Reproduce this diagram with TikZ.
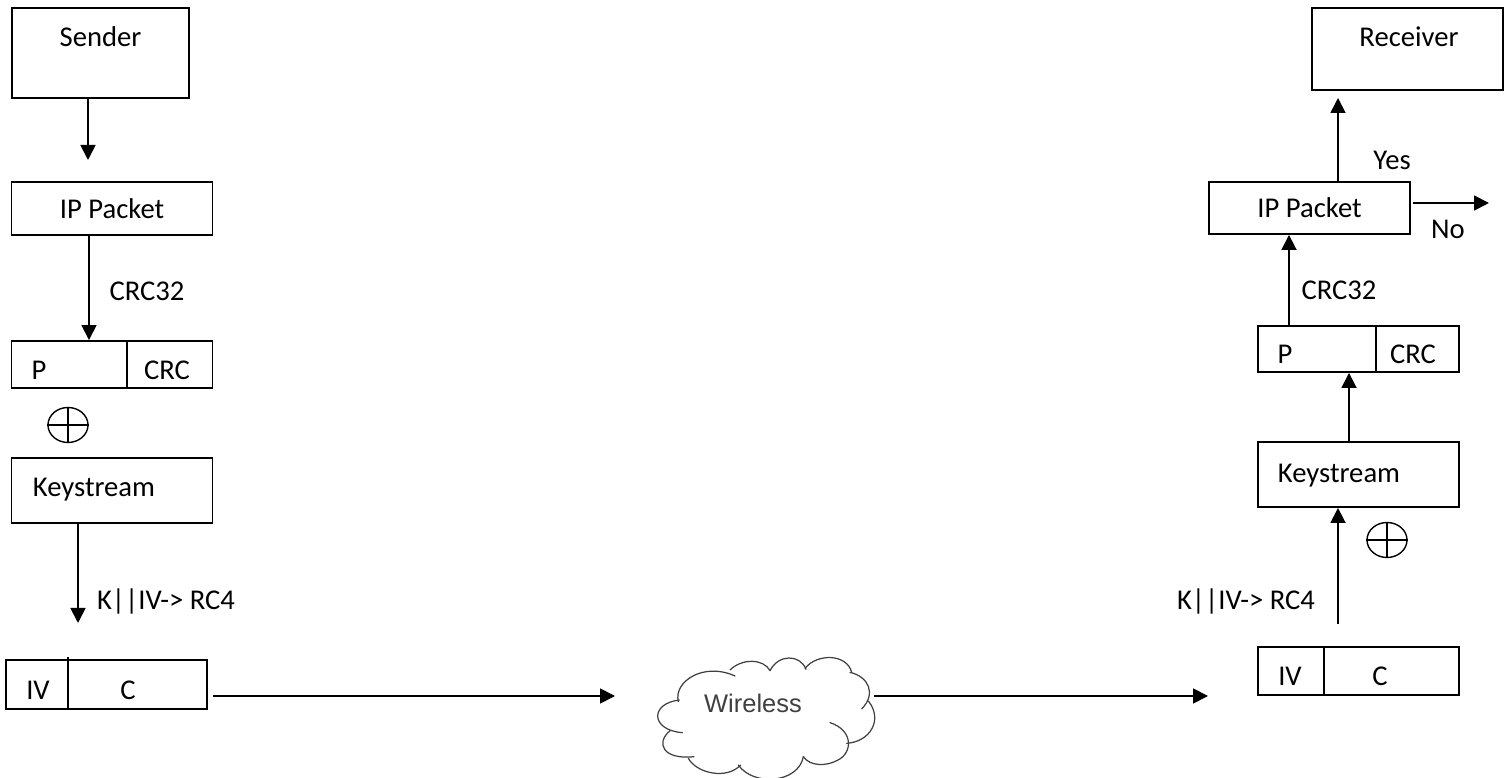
\documentclass[tikz,border=0pt]{standalone}
\usepackage{fontspec}
\setmainfont{Carlito}
\newfontfamily\cloudfont{Liberation Sans}
\usetikzlibrary{arrows.meta,positioning,shapes.geometric}

\begin{document}
\begin{tikzpicture}[
          every node/.style={font=\fontsize{16.3}{19}\selectfont},
          box/.style={draw, line width=1.1pt, inner sep=0pt, minimum width=4.02cm},
          txt/.style={inner sep=0pt},
          xorsym/.style={draw, ellipse, line width=.8pt, inner sep=0pt,
                      minimum width=.8cm, minimum height=.7cm},
          arr/.style={-{Triangle[length=3mm,width=3mm]}, line width=1.0pt}
      ]
        \useasboundingbox (0,0) rectangle (30.22,15.56);

        % sender side
        \node[box, minimum width=3.54cm, minimum height=1.80cm] (sender) at (2.01,14.50) {};
        \node[txt] (senderlbl) at (2.01,14.82) {Sender};
        \node[box, minimum height=1.06cm] (ipl) at (2.24,11.39) {IP Packet};
        \node[box, minimum height=.94cm] (pl) at (2.24,8.27) {};
        \node[txt] (plp) at (0.78,8.16) {P};
        \node[txt] (plcrc) at (3.34,8.16) {CRC};
        \node[xorsym] (xorl) at (1.36,7.06) {};
        \node[box, minimum height=1.30cm] (ksl) at (2.24,5.75) {};
        \node[txt] (kslbl) at (1.88,5.76) {Keystream};
        \node[box, minimum height=.98cm] (ivl) at (2.13,1.87) {};
        \node[txt] (ivliv) at (0.76,1.76) {IV};
        \node[txt] (ivlc) at (2.56,1.76) {C};

        \node[txt] (crcl) at (2.94,9.74) {CRC32};
        \node[txt] (keyl) at (3.32,3.52) {K||IV-> RC4};

        % receiver side
        \node[box, minimum width=3.82cm, minimum height=1.64cm] (receiver) at (28.15,14.58) {};
        \node[txt] (receiverlbl) at (28.18,14.82) {Receiver};
        \node[box, minimum height=1.04cm] (ipr) at (26.19,11.40) {IP Packet};
        \node[box, minimum height=.92cm] (pr) at (27.17,8.58) {};
        \node[txt] (prp) at (25.70,8.48) {P};
        \node[txt] (prcrc) at (28.26,8.48) {CRC};
        \node[box, minimum height=1.30cm] (ksr) at (27.17,6.07) {};
        \node[txt] (ksrlbl) at (26.78,6.04) {Keystream};
        \node[xorsym] (xorr) at (27.74,4.76) {};
        \node[box, minimum height=.96cm] (ivr) at (27.17,2.14) {};
        \node[txt] (ivriv) at (25.80,2.04) {IV};
        \node[txt] (ivrc) at (27.60,2.04) {C};

        \node[txt] (crcr) at (26.78,9.76) {CRC32};
        \node[txt] (keyr) at (24.92,3.52) {K||IV-> RC4};
        \node[txt] (yes) at (27.84,12.35) {Yes};
        \node[txt] (no) at (28.96,10.98) {No};

        % dividers and xor crosses
        \draw[line width=.8pt] ([xshift=.30cm]pl.north) -- ([xshift=.30cm]pl.south);
        \draw[line width=.8pt] ([xshift=.35cm]pr.north) -- ([xshift=.35cm]pr.south);
        \draw[line width=.8pt] ([xshift=-.77cm,yshift=.04cm]ivl.north) -- ([xshift=-.77cm]ivl.south);
        \draw[line width=.8pt] ([xshift=-.69cm]ivr.north) -- ([xshift=-.69cm]ivr.south);
        \foreach \x in {xorl,xorr} {
            \draw[line width=.8pt] (\x.north) -- (\x.south);
            \draw[line width=.8pt] (\x.west) -- (\x.east);
        }

        % cloud
        \begin{scope}[shift={(12.4,2.76)}, x=.00667cm, y=-.00667cm,
                      line width=.7pt, draw=black!75, line cap=round]
            \draw (175,185) .. controls (160,125) and (250,65) .. (345,108);
            \draw (330,90) .. controls (365,55) and (430,55) .. (450,92);
            \draw (450,92) .. controls (475,42) and (540,42) .. (558,88);
            \draw (555,85) .. controls (590,40) and (680,40) .. (695,97);
            \draw (690,97) .. controls (745,110) and (770,160) .. (725,207);
            \draw (745,183) .. controls (790,240) and (750,305) .. (680,310);
            \draw (630,248) .. controls (700,270) and (700,340) .. (650,362)
                  .. controls (620,378) and (570,380) .. (550,350);
            \draw (550,350) .. controls (535,430) and (400,440) .. (355,375);
            \draw (362,375) .. controls (320,420) and (230,400) .. (205,355);
            \draw (222,350) .. controls (130,360) and (105,310) .. (150,272);
            \draw (187,278) .. controls (90,270) and (90,190) .. (178,180);
        \end{scope}
        \node[txt, font=\cloudfont\fontsize{14.5}{17}\selectfont, text=black!75] (wireless) at (15.06,1.50) {Wireless};

        % free ends of the connectors
        \coordinate (senderend) at (1.76,12.36);
        \coordinate (keylend) at (1.56,3.10);
        \coordinate (ivlout) at (4.26,1.64);
        \coordinate (cloudin) at (12.30,1.64);
        \coordinate (cloudout) at (17.48,1.64);
        \coordinate (ivrin) at (24.16,1.64);
        \coordinate (keyrstart) at (26.76,3.08);
        \coordinate (receiverin) at (26.76,13.60);
        \coordinate (nostart) at (28.26,11.50);
        \coordinate (noend) at (29.78,11.50);

        \draw[arr] ([xshift=-.25cm]sender.south) -- (senderend);
        \draw[arr] ([xshift=-.46cm]ipl.south) -- ([xshift=-.46cm]pl.north);
        \draw[arr] ([xshift=-.68cm]ksl.south) -- (keylend);
        \draw[arr] (ivlout) -- (cloudin);
        \draw[arr] (cloudout) -- (ivrin);
        \draw[arr] (keyrstart) -- ([xshift=-.41cm]ksr.south);
        \draw[arr] ([xshift=-.19cm]ksr.north) -- ([xshift=-.19cm]pr.south);
        \draw[arr] ([xshift=-1.39cm]pr.north) -- ([xshift=-.41cm]ipr.south);
        \draw[arr] ([xshift=.57cm]ipr.north) -- (receiverin);
        \draw[arr] (nostart) -- (noend);
      \end{tikzpicture}
\end{document}
